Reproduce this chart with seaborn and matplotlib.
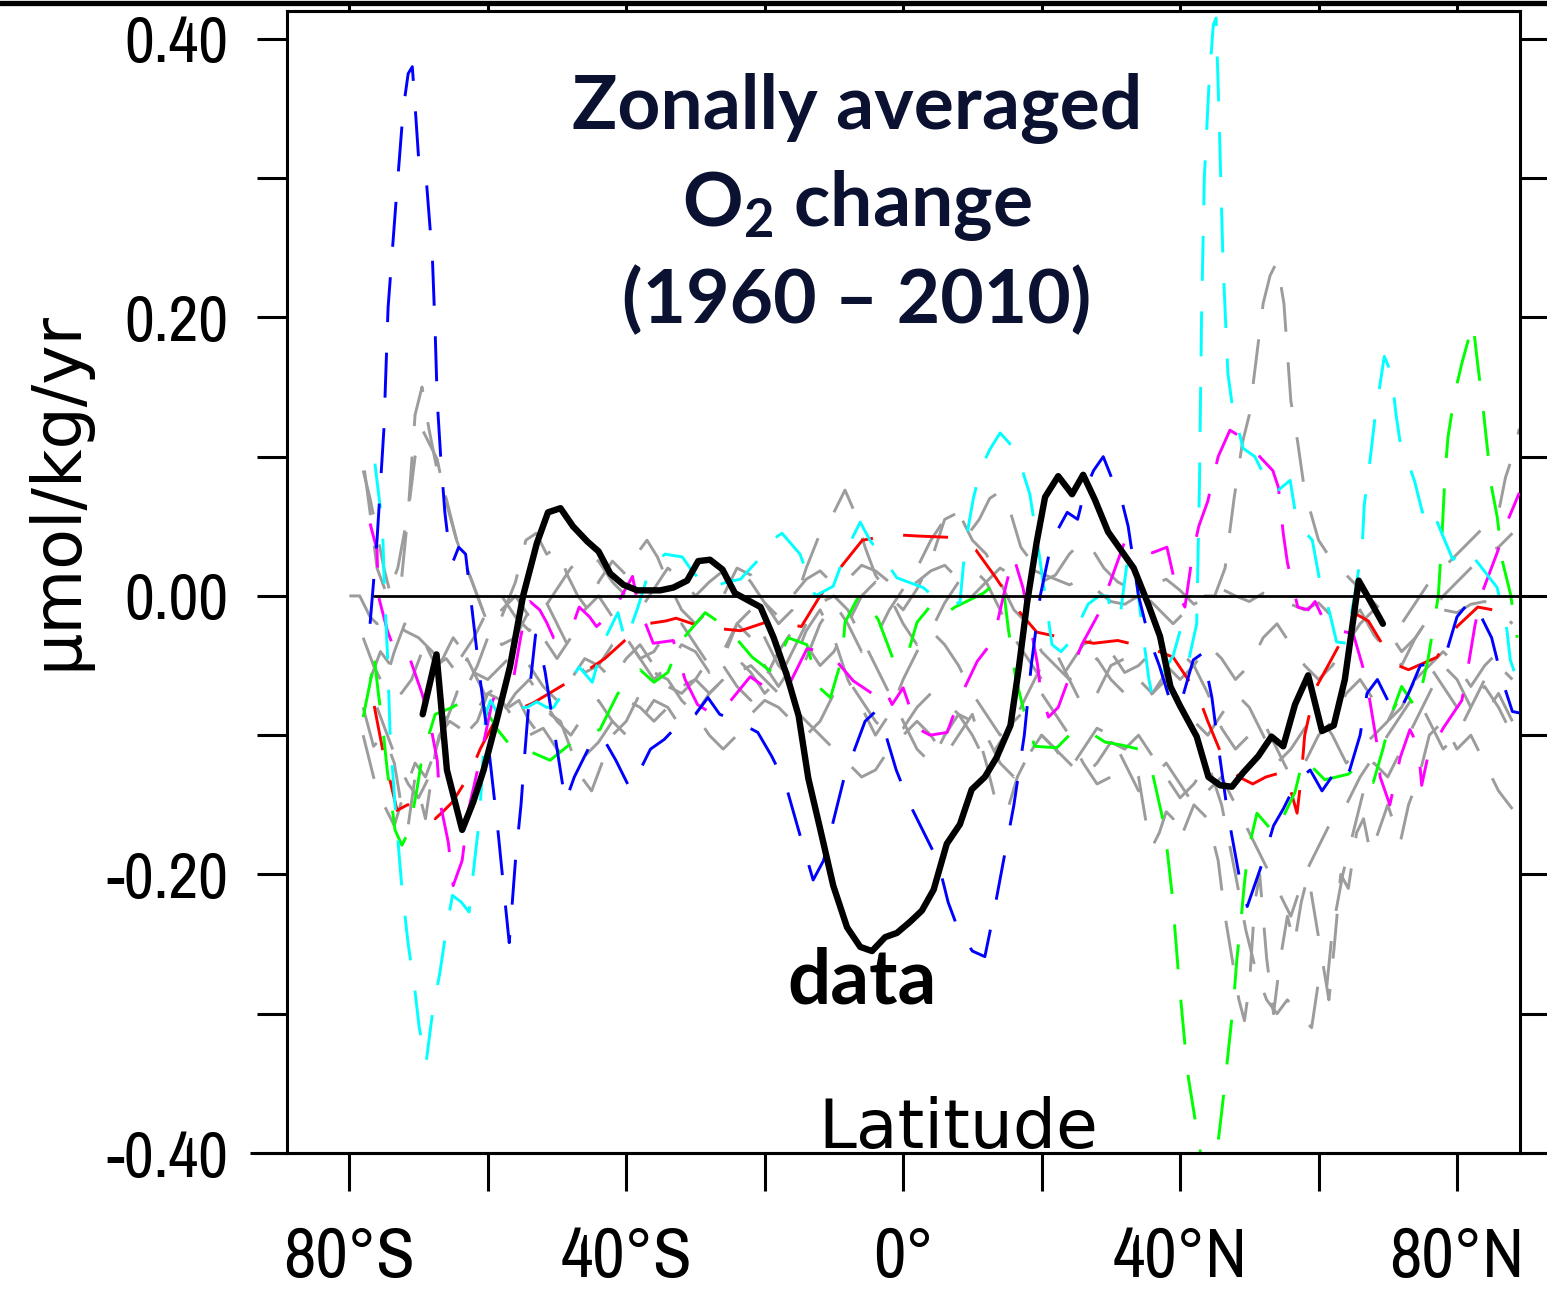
import matplotlib
matplotlib.use("Agg")
import matplotlib.pyplot as plt
from matplotlib import font_manager
from matplotlib.font_manager import FontProperties
from matplotlib.lines import Line2D
import pandas as pd
import seaborn as sns

# ---------------- data (latitude in degrees, O2 change in umol/kg/yr) ----------------
DATA_OBS = [(-69.4, -0.085), (-67.4, -0.042), (-65.9, -0.125), (-63.7, -0.168), (-62.1, -0.148),
            (-60.6, -0.125), (-58.7, -0.089), (-56.8, -0.051), (-54.9, 0.0), (-52.9, 0.038),
            (-51.3, 0.060), (-49.5, 0.063), (-47.7, 0.050), (-45.6, 0.039), (-44.0, 0.032),
            (-42.3, 0.016), (-40.4, 0.008), (-38.4, 0.004), (-35.1, 0.004), (-33.2, 0.006),
            (-31.2, 0.011), (-29.6, 0.025), (-27.9, 0.026), (-26.1, 0.019), (-24.3, 0.002),
            (-20.6, -0.008), (-18.7, -0.030), (-16.8, -0.057), (-15.1, -0.086), (-13.7, -0.131),
            (-12.0, -0.167), (-10.1, -0.208), (-8.1, -0.238), (-6.2, -0.252), (-4.5, -0.255),
            (-2.6, -0.245), (-0.9, -0.242), (1.0, -0.234), (2.7, -0.226), (4.4, -0.211),
            (6.3, -0.178), (8.2, -0.164), (9.9, -0.139), (11.8, -0.130), (13.5, -0.116),
            (15.5, -0.093), (16.7, -0.052), (17.9, -0.005), (19.3, 0.039), (20.5, 0.071),
            (22.4, 0.086), (24.4, 0.073), (26.0, 0.087), (27.7, 0.069), (29.6, 0.046),
            (33.3, 0.020), (35.4, -0.006), (37.1, -0.029), (38.6, -0.065), (40.0, -0.079),
            (42.4, -0.101), (44.1, -0.130), (45.8, -0.136), (47.5, -0.137), (49.1, -0.127),
            (51.3, -0.115), (53.2, -0.101), (54.9, -0.108), (56.6, -0.078), (58.5, -0.057),
            (60.5, -0.097), (62.2, -0.093), (63.8, -0.060), (65.8, 0.011), (67.4, -0.003),
            (69.3, -0.020)]

MODEL_BLUE = [(-77.0, -0.02), (-76.0, 0.04), (-75.0, 0.12), (-74.4, 0.207), (-73.3, 0.28),
              (-72.2, 0.35), (-71.5, 0.375), (-70.9, 0.38), (-70.5, 0.352), (-70.0, 0.315),
              (-68.9, 0.30), (-68.0, 0.243), (-67.6, 0.19), (-67.3, 0.14), (-66.8, 0.10),
              (-66.2, 0.06), (-65.6, 0.035), (-65.0, 0.025), (-64.2, 0.035), (-63.2, 0.03),
              (-62.5, 0.0), (-61.8, -0.03), (-61.1, -0.06), (-60.3, -0.09), (-59.4, -0.13),
              (-58.5, -0.17), (-57.7, -0.21), (-56.9, -0.249), (-56.0, -0.19), (-55.2, -0.15),
              (-54.6, -0.11), (-53.8, -0.06), (-53.1, -0.028), (-52.3, -0.04), (-51.7, -0.055),
              (-50.3, -0.1), (-48.8, -0.148), (-47.5, -0.13), (-46.0, -0.115), (-44.5, -0.1),
              (-43.0, -0.105), (-41.5, -0.118), (-39.5, -0.138), (-38.0, -0.125), (-36.5, -0.11),
              (-34.5, -0.103), (-32.0, -0.09), (-30.0, -0.085), (-28.2, -0.073), (-26.5, -0.085),
              (-24.0, -0.09), (-21.0, -0.098), (-19.0, -0.115), (-17.0, -0.135), (-15.0, -0.17),
              (-13.0, -0.204), (-11.5, -0.19), (-10.0, -0.16), (-8.5, -0.13), (-7.0, -0.11),
              (-5.5, -0.09), (-4.0, -0.083), (-2.5, -0.1), (-1.0, -0.125), (1.0, -0.15),
              (3.0, -0.17), (5.0, -0.19), (6.5, -0.22), (8.0, -0.24), (10.0, -0.255),
              (11.8, -0.259), (13.0, -0.23), (14.5, -0.19), (16.0, -0.15), (17.5, -0.1),
              (18.5, -0.05), (19.8, 0.0), (21.5, 0.04), (23.7, 0.06), (25.2, 0.055),
              (26.2, 0.075), (27.5, 0.09), (28.9, 0.10), (30.5, 0.08), (31.5, 0.07),
              (32.5, 0.05), (34.0, 0.0), (35.5, -0.03), (37.0, -0.05), (38.6, -0.076),
              (39.5, -0.08), (40.4, -0.072), (41.9, -0.046), (43.3, -0.041), (44.6, -0.073),
              (45.3, -0.1), (46.0, -0.125), (46.7, -0.15), (47.4, -0.17), (48.5, -0.2),
              (49.7, -0.223), (52.0, -0.19), (53.5, -0.165), (54.9, -0.153), (57.0, -0.132),
              (58.8, -0.125), (60.5, -0.14), (61.9, -0.13), (63.1, -0.137), (64.5, -0.125),
              (66.0, -0.1), (67.0, -0.07), (68.5, -0.06), (70.0, -0.075), (71.5, -0.085),
              (73.0, -0.07), (74.7, -0.05), (76.5, -0.048), (78.5, -0.04), (80.0, -0.015),
              (82.0, -0.003), (83.5, -0.015), (85.0, -0.03), (86.5, -0.06), (88.0, -0.083),
              (89.0, -0.084)]

MODEL_CYAN = [(-76.3, 0.095), (-75.2, 0.05), (-74.9, 0.0), (-74.5, -0.04), (-74.1, -0.1),
              (-73.4, -0.15), (-72.4, -0.21), (-71.5, -0.25), (-70.6, -0.28), (-69.9, -0.31),
              (-68.9, -0.335), (-68.0, -0.30), (-66.9, -0.27), (-66.0, -0.24), (-65.1, -0.215),
              (-63.8, -0.22), (-62.7, -0.227), (-61.9, -0.19), (-61.2, -0.16), (-60.3, -0.085),
              (-59.6, -0.075), (-58.5, -0.085), (-57.5, -0.09), (-56.0, -0.08), (-54.3, -0.08),
              (-52.9, -0.076), (-51.5, -0.08), (-50.5, -0.08), (-48.5, -0.065), (-46.8, -0.051),
              (-44.9, -0.062), (-43.3, -0.033), (-41.2, -0.012), (-40.1, -0.033), (-38.3, -0.008),
              (-36.5, 0.021), (-34.4, 0.03), (-31.9, 0.028), (-30.5, 0.018), (-28.2, 0.005),
              (-25.5, 0.01), (-23.5, 0.012), (-20.9, 0.026), (-19.0, 0.04), (-17.5, 0.045),
              (-14.9, 0.03), (-12.7, 0.0), (-10.1, 0.007), (-8.1, 0.034), (-6.2, 0.053),
              (-4.8, 0.04), (-3.0, 0.028), (-0.9, 0.013), (2.9, 0.006), (4.3, 0.0),
              (6.5, -0.005), (8.2, -0.005), (9.0, 0.038), (10.1, 0.069), (11.1, 0.09),
              (12.5, 0.105), (14.0, 0.117), (15.3, 0.11), (16.6, 0.1), (18.3, 0.073),
              (19.5, 0.035), (20.5, 0.0), (21.5, -0.035), (22.8, -0.04), (24.1, -0.033),
              (26.7, -0.006), (28.3, 0.0), (29.5, 0.0), (30.3, -0.016), (31.3, -0.016),
              (32.5, 0.03), (33.5, 0.02), (34.7, -0.03), (35.5, -0.06), (36.0, -0.072),
              (37.5, -0.055), (39.0, -0.043), (40.0, -0.025), (41.3, -0.045), (42.4, -0.02),
              (42.8, 0.08), (43.1, 0.2), (43.5, 0.3), (44.2, 0.37), (44.8, 0.41),
              (45.2, 0.415), (45.6, 0.35), (46.2, 0.24), (46.9, 0.16), (47.5, 0.138),
              (49.1, 0.106), (50.8, 0.1), (52.3, 0.085), (53.7, 0.074), (55.9, 0.083),
              (56.9, 0.052), (59.1, 0.04), (60.2, 0.01), (61.6, -0.012), (62.6, -0.033),
              (64.0, -0.034), (65.2, 0.0), (66.3, 0.035), (66.6, 0.065), (67.5, 0.1),
              (68.2, 0.13), (69.5, 0.172), (70.5, 0.16), (71.2, 0.13), (71.8, 0.11),
              (73.0, 0.095), (73.9, 0.082), (75.0, 0.06), (76.0, 0.067), (77.8, 0.045),
              (79.4, 0.026), (81.2, 0.035), (83.3, 0.022), (85.8, 0.006), (87.2, -0.024),
              (87.7, -0.046), (89.0, -0.065)]

MODEL_MAGENTA = [(-77.0, 0.052), (-76.0, 0.033), (-75.8, 0.0), (-74.5, -0.025), (-73.6, -0.037),
                 (-71.6, -0.04), (-69.5, -0.07), (-68.3, -0.092), (-67.3, -0.118), (-66.9, -0.148),
                 (-65.7, -0.177), (-65.0, -0.208), (-63.7, -0.19), (-62.8, -0.154), (-61.7, -0.13),
                 (-60.8, -0.11), (-59.3, -0.075), (-58.0, -0.065), (-56.2, -0.057), (-55.3, -0.031),
                 (-54.3, -0.006), (-53.9, -0.004), (-52.5, -0.01), (-51.5, -0.019), (-50.5, -0.03),
                 (-49.5, -0.03), (-48.0, -0.025), (-46.8, -0.008), (-45.3, -0.015), (-44.3, -0.022),
                 (-42.0, -0.012), (-39.1, 0.014), (-38.3, -0.006), (-36.1, -0.034), (-33.2, -0.032),
                 (-31.5, -0.06), (-29.7, -0.078), (-27.5, -0.085), (-25.7, -0.08), (-22.1, -0.058),
                 (-19.2, -0.068), (-16.3, -0.062), (-13.9, -0.038), (-10.8, -0.04), (-7.2, -0.061),
                 (-4.5, -0.07), (-3.0, -0.063), (-1.6, -0.078), (0.0, -0.066), (2.0, -0.095),
                 (3.9, -0.1), (6.35, -0.098), (8.2, -0.073), (10.7, -0.047), (13.0, -0.032),
                 (14.4, -0.002), (15.9, 0.029), (17.3, 0.006), (18.3, -0.019), (19.4, -0.049),
                 (19.9, -0.07), (21.0, -0.087), (22.4, -0.08), (23.8, -0.061), (25.8, -0.035),
                 (28.2, -0.013), (30.2, 0.014), (32.0, 0.039), (34.0, 0.035), (36.0, 0.031),
                 (38.1, 0.035), (39.6, 0.002), (40.7, -0.008), (41.8, 0.03), (42.7, 0.05),
                 (44.0, 0.068), (45.5, 0.1), (47.2, 0.119), (48.5, 0.115), (50.0, 0.11),
                 (51.5, 0.1), (53.4, 0.09), (54.2, 0.078), (54.9, 0.045), (55.5, 0.024),
                 (57.0, -0.008), (58.5, -0.01), (59.5, -0.004), (61.0, -0.02), (62.0, -0.024),
                 (65.0, -0.027), (66.4, -0.051), (67.4, -0.075), (68.4, -0.105), (68.9, -0.13),
                 (70.3, -0.15), (71.8, -0.116), (73.2, -0.096), (74.4, -0.108), (74.9, -0.136),
                 (75.8, -0.115), (78.0, -0.095), (80.7, -0.075), (81.6, -0.051), (82.6, -0.021),
                 (83.6, 0.002), (85.8, 0.031), (87.4, 0.055), (89.0, 0.074)]

MODEL_RED = [(-76.4, -0.079), (-75.2, -0.11), (-74.0, -0.135), (-73.1, -0.154), (-71.6, -0.15),
             (-70.0, -0.15), (-68.3, -0.155), (-67.6, -0.16), (-66.5, -0.155), (-65.1, -0.148),
             (-62.7, -0.129), (-61.1, -0.11), (-59.0, -0.09), (-57.3, -0.083), (-54.9, -0.08),
             (-53.5, -0.077), (-50.8, -0.069), (-47.1, -0.058), (-44.6, -0.05), (-43.1, -0.045),
             (-39.1, -0.027), (-37.0, -0.02), (-34.3, -0.018), (-32.8, -0.016), (-30.4, -0.02),
             (-27.5, -0.023), (-23.5, -0.025), (-19.3, -0.018), (-14.7, -0.022), (-12.0, 0.0),
             (-8.8, 0.022), (-5.9, 0.04), (-1.4, 0.044), (2.2, 0.043), (7.0, 0.042),
             (10.5, 0.033), (13.4, 0.013), (16.2, -0.008), (19.3, -0.026), (23.0, -0.03),
             (27.5, -0.034), (31.0, -0.032), (36.0, -0.038), (39.0, -0.044), (42.5, -0.07),
             (44.0, -0.09), (46.5, -0.12), (48.5, -0.13), (50.5, -0.135), (52.4, -0.13),
             (55.2, -0.126), (56.9, -0.156), (57.5, -0.13), (58.0, -0.1), (59.5, -0.067),
             (61.7, -0.047), (65.4, -0.013), (67.2, -0.018), (69.5, -0.037), (71.5, -0.05),
             (73.0, -0.053), (77.1, -0.044), (80.0, -0.022), (83.0, -0.008), (87.4, -0.012)]

MODEL_GREEN = [(-78.0, -0.087), (-76.7, -0.055), (-76.5, -0.04), (-75.8, -0.07), (-75.2, -0.093),
               (-74.5, -0.126), (-73.4, -0.168), (-72.4, -0.179), (-71.3, -0.168), (-70.2, -0.138),
               (-69.5, -0.116), (-67.6, -0.085), (-65.1, -0.08), (-62.5, -0.072), (-60.5, -0.08),
               (-58.6, -0.096), (-56.0, -0.112), (-54.7, -0.11), (-51.0, -0.118), (-47.0, -0.102),
               (-43.8, -0.096), (-41.2, -0.07), (-38.0, -0.053), (-36.0, -0.062), (-34.0, -0.055),
               (-32.2, -0.033), (-28.6, -0.012), (-25.4, -0.023), (-21.8, -0.044), (-18.9, -0.055),
               (-16.6, -0.03), (-13.9, -0.035), (-12.3, -0.065), (-10.5, -0.073), (-8.8, -0.044),
               (-8.4, -0.019), (-6.2, 0.002), (-3.6, -0.017), (-1.4, -0.046), (0.3, -0.048),
               (2.0, -0.019), (4.3, -0.005), (6.0, -0.013), (7.5, -0.008), (11.6, 0.002),
               (14.3, 0.013), (15.2, -0.024), (16.2, -0.057), (17.2, -0.078), (19.0, -0.108),
               (22.2, -0.109), (24.0, -0.1), (26.0, -0.095), (29.2, -0.105), (31.5, -0.107),
               (34.0, -0.11), (36.0, -0.127), (37.4, -0.158), (38.1, -0.181), (38.8, -0.212),
               (39.2, -0.236), (39.7, -0.267), (40.1, -0.29), (40.7, -0.322), (41.2, -0.346),
               (42.2, -0.377), (43.6, -0.42), (45.3, -0.4), (46.0, -0.371), (46.5, -0.349),
               (47.2, -0.316), (47.7, -0.293), (48.2, -0.261), (48.7, -0.238), (49.3, -0.206),
               (49.8, -0.184), (51.1, -0.156), (51.8, -0.16), (53.7, -0.171), (56.6, -0.141),
               (57.8, -0.116), (58.5, -0.12), (60.9, -0.132), (64.3, -0.128), (65.7, -0.122),
               (67.9, -0.134), (69.3, -0.11), (70.6, -0.084), (72.0, -0.065), (74.0, -0.08),
               (74.7, -0.07), (75.8, -0.046), (77.3, 0.0), (77.8, 0.04), (78.3, 0.09),
               (78.7, 0.114), (79.7, 0.146), (80.7, 0.167), (82.3, 0.196), (83.0, 0.166),
               (83.8, 0.133), (84.3, 0.11), (85.0, 0.078), (85.8, 0.057), (86.6, 0.024),
               (87.7, 0.002), (88.7, -0.03)]

MODEL_GRAY_1 = [(-80, 0.0), (-78.5, 0.0), (-77, -0.015), (-76, -0.02), (-74, -0.015), (-72, -0.025),
                (-70, -0.03), (-68, -0.04), (-66, -0.05), (-64, -0.045), (-62, -0.03), (-60, -0.01),
                (-58, 0.0), (-56, -0.015), (-54, -0.025), (-52, -0.01), (-50, 0.005), (-48, 0.02),
                (-46, 0.03), (-44, 0.025), (-42, 0.01), (-40, 0.0), (-38, -0.01), (-36, 0.005),
                (-34, 0.02), (-32, 0.012), (-30, 0.0), (-28, 0.01), (-26, 0.018), (-24, 0.022),
                (-22, 0.01), (-20, -0.005), (-18, -0.015), (-16, 0.0), (-14, 0.012), (-12, 0.018),
                (-10, 0.008), (-8, 0.012), (-6, 0.022), (-4, 0.018), (-2, 0.01), (0, 0.005),
                (2, 0.01), (4, 0.018), (6, 0.022), (8, 0.012), (10, 0.0), (12, 0.01), (14, 0.02),
                (16, 0.014), (18, 0.02), (20, 0.016), (22, 0.012), (24, 0.008), (26, 0.012),
                (28, 0.004), (30, -0.004), (32, -0.006), (34, 0.0), (36, 0.008), (38, 0.012),
                (40, 0.004), (42, -0.006), (44, 0.0), (46, 0.005), (48, 0.0), (50, -0.004),
                (52, 0.002), (54, 0.0), (56, -0.006), (58, -0.01), (60, -0.005), (62, -0.015),
                (64, -0.02), (66, -0.01), (68, -0.028), (70, -0.04), (72, -0.05), (74, -0.03),
                (76, -0.015), (78, -0.01), (80, -0.012), (82, -0.006), (84, -0.004), (86, -0.01),
                (88, -0.02)]

MODEL_GRAY_2 = [(-78, 0.09), (-77, 0.07), (-76, 0.045), (-75, 0.02), (-74, 0.0), (-72.5, 0.01),
                (-71.5, 0.06), (-70.5, 0.13), (-69.5, 0.15), (-68.5, 0.12), (-67.3, 0.09), (-66, 0.07),
                (-64.5, 0.04), (-63, 0.02), (-61.5, 0.0), (-60, -0.02), (-58, -0.015), (-56, 0.01),
                (-54.5, 0.04), (-53, 0.045), (-51.5, 0.03), (-50, 0.035), (-48.5, 0.015), (-47, 0.0),
                (-45.5, -0.01), (-44, 0.01), (-42, 0.025), (-40, 0.015), (-38.5, 0.03), (-37, 0.04),
                (-35.5, 0.028), (-34, 0.01), (-32, -0.01), (-30, -0.02), (-28, -0.01), (-26, 0.0),
                (-24, 0.02), (-22, 0.015), (-20, -0.005), (-18, -0.02), (-16, -0.01), (-14, 0.02),
                (-12, 0.045), (-10, 0.06), (-8.4, 0.076), (-7, 0.06), (-5.5, 0.035), (-4, 0.015),
                (-2, 0.0), (0, -0.01), (2, 0.005), (4, 0.025), (6, 0.055), (8, 0.06), (9.5, 0.045),
                (11, 0.055), (12.5, 0.07), (14, 0.075), (15.5, 0.06), (17, 0.035), (18.5, 0.025),
                (20, 0.01), (22, 0.015), (24, 0.03), (26, 0.04), (27.5, 0.032), (29, 0.02),
                (31, 0.01), (33, 0.005), (35, 0.0), (37, -0.01), (39, -0.02), (41, -0.01), (43, 0.0),
                (45, 0.0), (46.5, 0.02), (47.8, 0.07), (49, 0.11), (50, 0.13), (51, 0.17), (52, 0.21),
                (53, 0.23), (54, 0.24), (55, 0.21), (56, 0.14), (57, 0.11), (58, 0.075), (60, 0.04),
                (62, 0.025), (64, 0.015), (66, 0.005), (68, -0.005), (70, -0.015), (72, -0.02),
                (74, -0.005), (76, 0.01), (78, 0.02), (80, 0.03), (82, 0.04), (84, 0.05), (86, 0.06),
                (87, 0.085), (88, 0.1), (89, 0.12)]

MODEL_GRAY_3 = [(-76, -0.08), (-74.5, -0.1), (-73, -0.12), (-71.5, -0.135), (-70, -0.145), (-68.5, -0.13),
                (-67, -0.1), (-65.5, -0.09), (-64, -0.095), (-62, -0.085), (-60, -0.07), (-58, -0.075),
                (-56, -0.09), (-54, -0.1), (-52, -0.095), (-50, -0.11), (-48, -0.12), (-46, -0.115),
                (-44, -0.105), (-42, -0.09), (-40, -0.075), (-38, -0.08), (-36, -0.09), (-34, -0.08),
                (-32, -0.065), (-30, -0.06), (-28, -0.07), (-26, -0.06), (-24, -0.055), (-22, -0.05),
                (-20, -0.06), (-18, -0.07), (-16, -0.08), (-14, -0.09), (-12, -0.1), (-10, -0.11),
                (-8, -0.12), (-6, -0.13), (-4, -0.125), (-2, -0.11), (0, -0.1), (2, -0.09), (4, -0.1),
                (6, -0.115), (8, -0.1), (10, -0.085), (12, -0.12), (13.5, -0.15), (15, -0.155),
                (16.5, -0.13), (18, -0.115), (20, -0.1), (22, -0.11), (24, -0.12), (26, -0.13),
                (28, -0.12), (30, -0.105), (32, -0.11), (34, -0.13), (35, -0.16), (36, -0.18),
                (37, -0.17), (38, -0.155), (39, -0.16), (40, -0.175), (42, -0.15), (44, -0.16),
                (45.5, -0.19), (46.5, -0.23), (47.5, -0.26), (48.5, -0.29), (49.3, -0.305), (50, -0.28),
                (50.8, -0.22), (51.5, -0.2), (52.5, -0.26), (53.5, -0.3), (54.5, -0.26), (55.5, -0.23),
                (56.5, -0.25), (57.5, -0.22), (58.5, -0.2), (59.5, -0.23), (60.5, -0.26), (61.5, -0.29),
                (62.3, -0.25), (63.2, -0.2), (64.3, -0.21), (65.5, -0.17), (66.5, -0.16), (67.5, -0.185),
                (68.6, -0.17), (70, -0.15), (71.8, -0.177), (73, -0.15), (74.5, -0.13), (76, -0.1),
                (78, -0.09), (80, -0.11), (82, -0.1), (84, -0.12), (86, -0.14), (88, -0.153)]

MODEL_GRAY_4 = [(-78, -0.08), (-76.5, -0.108), (-75, -0.1), (-73.5, -0.12), (-72.5, -0.15), (-71.5, -0.165),
                (-70.5, -0.13), (-69, -0.16), (-67.5, -0.11), (-66, -0.087), (-64.5, -0.095), (-63, -0.098),
                (-61.5, -0.09), (-60, -0.07), (-58.5, -0.065), (-57, -0.08), (-55.5, -0.075), (-54, -0.09),
                (-52.5, -0.1), (-51, -0.085), (-49.5, -0.09), (-48, -0.11), (-46.5, -0.13), (-45, -0.14),
                (-43.5, -0.12), (-42, -0.1), (-40, -0.09), (-38, -0.07), (-36, -0.055), (-34, -0.06),
                (-32, -0.075), (-30, -0.085), (-28, -0.1), (-26, -0.11), (-24, -0.1), (-22, -0.085),
                (-20, -0.075), (-18, -0.08), (-16, -0.09), (-14, -0.1), (-12, -0.09), (-10, -0.07),
                (-8, -0.06), (-6, -0.075), (-4, -0.09), (-2, -0.1), (0, -0.095), (2, -0.08), (4, -0.07),
                (6, -0.075), (8, -0.085), (10, -0.1), (12, -0.12), (14, -0.105), (16, -0.09), (18, -0.08),
                (20, -0.07), (22, -0.085), (24, -0.1), (26, -0.12), (28, -0.135), (30, -0.13), (32, -0.11),
                (34, -0.1), (36, -0.115), (38, -0.13), (40, -0.145), (42, -0.135), (44, -0.12), (46, -0.15),
                (48, -0.2), (49.5, -0.24), (51, -0.27), (52.5, -0.29), (54, -0.3), (55.5, -0.29), (57, -0.3),
                (59, -0.31), (60.2, -0.27), (61.2, -0.28), (62, -0.24), (63.5, -0.2), (65, -0.17),
                (66.5, -0.14), (68, -0.12), (70, -0.13), (72, -0.11), (74, -0.09), (76, -0.07), (78, -0.05),
                (80, -0.06), (82, -0.08), (84, -0.085), (86, -0.07), (88, -0.09)]

MODEL_GRAY_5 = [(-77.8, 0.09), (-77, 0.06), (-76, 0.02), (-74.5, 0.0), (-73, 0.02), (-71.5, 0.06),
                (-70.5, 0.1), (-69.5, 0.12), (-68.5, 0.11), (-67.3, 0.098), (-66, 0.067), (-64.5, 0.04),
                (-63, 0.02), (-61.5, 0.0), (-60, -0.02), (-58, -0.035), (-56, -0.03), (-54, -0.01),
                (-52, 0.0), (-50, -0.02), (-48, -0.04), (-46, -0.055), (-44, -0.05), (-42, -0.035),
                (-40, -0.03), (-38, -0.045), (-36, -0.06), (-34, -0.05), (-32, -0.035), (-30, -0.04),
                (-28, -0.055), (-26, -0.045), (-24, -0.02), (-22, -0.01), (-20, -0.03), (-18, -0.05),
                (-16, -0.06), (-14, -0.045), (-12, -0.02), (-10, -0.005), (-8, -0.02), (-6, -0.04),
                (-4, -0.03), (-2, -0.01), (0, 0.005), (2, 0.02), (4, 0.04), (6, 0.055), (8, 0.06),
                (10, 0.04), (12, 0.03), (14, 0.01), (16, -0.01), (18, -0.02), (20, -0.04), (22, -0.05),
                (24, -0.06), (26, -0.055), (28, -0.045), (30, -0.06), (32, -0.07), (34, -0.075),
                (36, -0.07), (38, -0.06), (40, -0.075), (42, -0.09), (44, -0.1), (46, -0.085),
                (48, -0.07), (50, -0.08), (52, -0.1), (54, -0.12), (56, -0.11), (58, -0.095),
                (60, -0.085), (62, -0.1), (64, -0.12), (66, -0.11), (68, -0.1), (70, -0.09), (72, -0.07),
                (74, -0.06), (76, -0.05), (78, -0.04), (80, -0.05), (82, -0.065), (84, -0.05),
                (86, -0.04), (88, -0.035)]

MODEL_GRAY_6 = [(-78, -0.03), (-76.5, -0.05), (-75, -0.065), (-73.5, -0.04), (-72, -0.02), (-70.5, -0.03),
                (-69, -0.035), (-67.5, -0.05), (-66, -0.045), (-64.5, -0.055), (-63, -0.065), (-61.5, -0.05),
                (-60, -0.03), (-58, -0.01), (-56, 0.0), (-54, -0.015), (-52, -0.03), (-50, -0.045),
                (-48, -0.03), (-46, -0.01), (-44, 0.0), (-42, -0.015), (-40, -0.03), (-38, -0.045),
                (-36, -0.04), (-34, -0.025), (-32, -0.02), (-30, -0.035), (-28, -0.05), (-26, -0.04),
                (-24, -0.02), (-22, -0.03), (-20, -0.05), (-18, -0.065), (-16, -0.05), (-14, -0.025),
                (-12, -0.01), (-10, -0.03), (-8, -0.06), (-6, -0.08), (-4, -0.1), (-2, -0.085), (0, -0.06),
                (2, -0.04), (4, -0.025), (6, -0.035), (8, -0.05), (10, -0.07), (12, -0.085), (14, -0.1),
                (16, -0.09), (18, -0.07), (20, -0.05), (22, -0.04), (24, -0.06), (26, -0.08), (28, -0.07),
                (30, -0.05), (32, -0.045), (34, -0.06), (36, -0.07), (38, -0.055), (40, -0.04),
                (42, -0.05), (44, -0.07), (46, -0.095), (48, -0.11), (50, -0.1), (52, -0.09), (54, -0.11),
                (56, -0.13), (58, -0.12), (60, -0.1), (62, -0.09), (64, -0.07), (66, -0.06), (68, -0.075),
                (70, -0.09), (72, -0.08), (74, -0.06), (76, -0.05), (78, -0.065), (80, -0.08),
                (82, -0.075), (84, -0.065), (86, -0.08), (88, -0.1)]

MODEL_GRAY_7 = [(-78, -0.1), (-76.5, -0.13), (-75, -0.15), (-73.5, -0.165), (-72, -0.14), (-70.5, -0.12),
                (-69, -0.13), (-67.5, -0.11), (-66, -0.09), (-64.5, -0.07), (-63, -0.045), (-61.5, -0.06),
                (-60, -0.075), (-58, -0.085), (-56, -0.07), (-54, -0.06), (-52, -0.075), (-50, -0.09),
                (-48, -0.1), (-46, -0.085), (-44, -0.075), (-42, -0.09), (-40, -0.1), (-38, -0.09),
                (-36, -0.075), (-34, -0.08), (-32, -0.095), (-30, -0.085), (-28, -0.07), (-26, -0.06),
                (-24, -0.045), (-22, -0.055), (-20, -0.07), (-18, -0.06), (-16, -0.04), (-14, -0.02),
                (-12, -0.005), (-10, 0.0), (-8, -0.01), (-6, -0.03), (-4, -0.05), (-2, -0.07), (0, -0.09),
                (2, -0.11), (4, -0.12), (6, -0.1), (8, -0.085), (10, -0.09), (12, -0.1), (14, -0.12),
                (16, -0.13), (18, -0.115), (20, -0.1), (22, -0.11), (24, -0.125), (26, -0.11), (28, -0.095),
                (30, -0.1), (32, -0.12), (34, -0.14), (36, -0.13), (38, -0.12), (40, -0.135), (42, -0.15),
                (44, -0.14), (46, -0.13), (48, -0.15), (50, -0.17), (52, -0.19), (54, -0.21), (56, -0.23),
                (58, -0.2), (60, -0.18), (62, -0.16), (64, -0.15), (66, -0.13), (68, -0.115), (70, -0.1),
                (72, -0.085), (74, -0.07), (76, -0.09), (78, -0.11), (80, -0.1), (82, -0.08), (84, -0.06),
                (86, -0.05), (88, -0.06)]

MODEL_GRAY_8 = [(-77, -0.06), (-75.5, -0.04), (-74, -0.05), (-72.5, -0.07), (-71, -0.06), (-69.5, -0.04),
                (-68, -0.055), (-66.5, -0.045), (-65, -0.03), (-63.5, -0.04), (-62, -0.055), (-60, -0.06),
                (-58, -0.05), (-56, -0.04), (-54, -0.05), (-52, -0.065), (-50, -0.075), (-48, -0.06),
                (-46, -0.045), (-44, -0.05), (-42, -0.06), (-40, -0.045), (-38, -0.035), (-36, -0.05),
                (-34, -0.065), (-32, -0.07), (-30, -0.06), (-28, -0.045), (-26, -0.05), (-24, -0.065),
                (-22, -0.075), (-20, -0.06), (-18, -0.04), (-16, -0.025), (-14, -0.035), (-12, -0.05),
                (-10, -0.04), (-8, -0.02), (-6, 0.0), (-4, 0.01), (-2, 0.0), (0, -0.02), (2, -0.035),
                (4, -0.025), (6, -0.005), (8, 0.01), (10, 0.02), (12, 0.01), (14, -0.01), (16, -0.03),
                (18, -0.045), (20, -0.06), (22, -0.065), (24, -0.05), (26, -0.035), (28, -0.03),
                (30, -0.04), (32, -0.055), (34, -0.05), (36, -0.04), (38, -0.05), (40, -0.06), (42, -0.05),
                (44, -0.035), (46, -0.045), (48, -0.06), (50, -0.05), (52, -0.03), (54, -0.02),
                (56, -0.035), (58, -0.05), (60, -0.06), (62, -0.05), (64, -0.035), (66, -0.02),
                (68, -0.01), (70, -0.025), (72, -0.04), (74, -0.03), (76, -0.015), (78, 0.0), (80, 0.01),
                (82, 0.02), (84, 0.03), (86, 0.035), (88, 0.045)]

ZERO_LINE = [(-76.4, 0.0), (89.1, 0.0)]

X_TICKS = [-80, -60, -40, -20, 0, 20, 40, 60, 80]
X_TICK_LABELS = ['80°S', '', '40°S', '', '0°', '', '40°N', '', '80°N']
Y_TICKS = [-0.4, -0.3, -0.2, -0.1, 0.0, 0.1, 0.2, 0.3, 0.4]
Y_TICK_LABELS = ['-0.40', '', '-0.20', '', '0.00', '', '0.20', '', '0.40']

TITLE_LINES = ['Zonally averaged', r'$\mathbf{O_2}$ change', '(1960 – 2010)']
Y_LABEL = 'μmol/kg/yr'
X_LABEL = 'Latitude'
DATA_LABEL = 'data'

# ---------------- style ----------------
sns.set_theme(style="white")
plt.rcParams['font.family'] = ['DejaVu Sans']
plt.rcParams['mathtext.fontset'] = 'custom'
plt.rcParams['mathtext.bf'] = 'Lato:bold'
plt.rcParams['mathtext.rm'] = 'Lato'
plt.rcParams['axes.linewidth'] = 2.2

# pick a narrow face for the tick labels if one is installed
fonts = font_manager.fontManager.ttflist
narrow = [f for f in fonts if 'Narrow' in f.name and f.weight in (400, 'normal', 'regular')
          and f.style == 'normal']
condensed = [f for f in fonts if f.stretch in ('condensed', 'semi-condensed')
             and f.weight in (400, 'normal', 'regular') and f.style == 'normal'
             and 'Sans' in f.name and 'Mono' not in f.name]
if narrow:
    tick_fp = FontProperties(fname=narrow[0].fname)
    xsize, ysize = 51, 47
elif condensed:
    tick_fp = FontProperties(fname=condensed[0].fname)
    xsize, ysize = 43, 40
else:
    tick_fp = FontProperties(family='DejaVu Sans')
    xsize, ysize = 39, 36

W, H = 1547, 1296
fig = plt.figure(figsize=(W / 100, H / 100), dpi=100)
ax = fig.add_axes([287 / W, 1 - 1153 / H, (1520 - 287) / W, (1153 - 11) / H])
ax.set_facecolor('white')

LW = 2.1
DASH = (0, (32.4 / LW, 22.0 / LW))


def draw(pairs, color, lw, ls, z):
    df = pd.DataFrame(pairs, columns=['lat', 'val'])
    sns.lineplot(data=df, x='lat', y='val', ax=ax, color=color, linewidth=lw,
                 linestyle=ls, zorder=z, sort=False, estimator=None, legend=False)


for g in [MODEL_GRAY_1, MODEL_GRAY_2, MODEL_GRAY_3, MODEL_GRAY_4,
          MODEL_GRAY_5, MODEL_GRAY_6, MODEL_GRAY_7, MODEL_GRAY_8]:
    draw(g, '#9c9c9c', LW, DASH, 2)

draw(MODEL_RED, '#ff0000', LW, DASH, 3)
draw(MODEL_GREEN, '#00ff00', LW, DASH, 3)
draw(MODEL_MAGENTA, '#ff00ff', LW, DASH, 3)
draw(MODEL_CYAN, '#00ffff', LW, DASH, 3)
draw(MODEL_BLUE, '#0000ff', LW, DASH, 3)
draw(ZERO_LINE, 'black', 2.0, '-', 4)
draw(DATA_OBS, 'black', 4.6, '-', 5)

ax.set_xlim(-89, 89.1)
ax.set_ylim(-0.40, 0.42)
ax.set_xlabel('')
ax.set_ylabel('')

ax.set_xticks(X_TICKS)
ax.set_xticklabels(X_TICK_LABELS)
ax.set_yticks(Y_TICKS)
ax.set_yticklabels(Y_TICK_LABELS)
for lab in ax.get_xticklabels():
    lab.set_fontproperties(tick_fp)
    lab.set_fontsize(xsize)
for lab in ax.get_yticklabels():
    lab.set_fontproperties(tick_fp)
    lab.set_fontsize(ysize)
ax.tick_params(axis='x', which='major', direction='out', length=27.5, width=2.2,
               bottom=True, top=False, pad=25, colors='black')
ax.tick_params(axis='y', which='major', direction='out', length=21.5, width=2.2,
               left=True, right=True, pad=21, colors='black')
for s in ax.spines.values():
    s.set_color('black')
    s.set_linewidth(2.2)

top = ax.secondary_xaxis('top')
top.set_xticks(X_TICKS)
top.set_xticklabels([''] * len(X_TICKS))
top.tick_params(direction='out', length=6, width=2.2, colors='black')
top.spines['top'].set_linewidth(2.2)

# bottom axis line extends beyond the frame on both sides
ax.plot([-37 / 1233, 1 + 27 / 1233], [0, 0], transform=ax.transAxes, clip_on=False,
        color='black', lw=2.2, solid_capstyle='butt', zorder=6)
# thick line of the neighbouring panel at the very top
fig.add_artist(Line2D([0, 1], [1 - 2.5 / H, 1 - 2.5 / H], transform=fig.transFigure,
                      color='black', lw=3.8))

title_color = '#0b1130'
for i, line in enumerate(TITLE_LINES):
    fig.text(857 / W, 1 - (129 + 97 * i) / H, line, ha='center', va='baseline',
             fontsize=54, fontweight='bold', family='Lato', color=title_color)

fig.text(862 / W, 1 - 1003 / H, DATA_LABEL, ha='center', va='baseline',
         fontsize=55, fontweight='bold', family='Lato', color='black')
fig.text(958 / W, 1 - 1148 / H, X_LABEL, ha='center', va='baseline',
         fontsize=49, family='DejaVu Sans', color='black')
fig.text(57 / W, 1 - 490 / H, Y_LABEL, ha='center', va='center', rotation=90,
         fontsize=48, family='DejaVu Sans', color='black')

fig.savefig('out.png', dpi=100, facecolor='white')
